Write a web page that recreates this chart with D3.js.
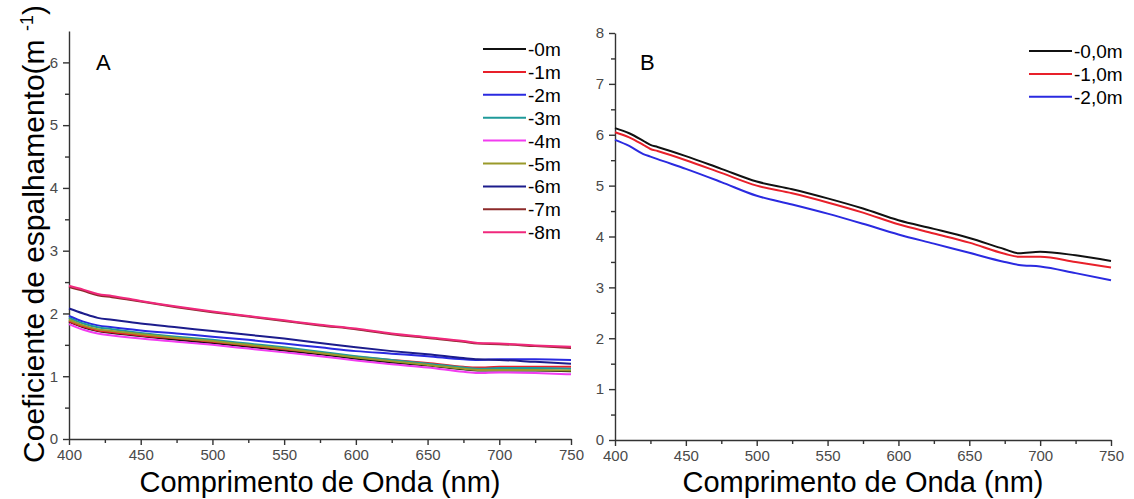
<!DOCTYPE html>
<html>
<head>
<meta charset="utf-8">
<script src="https://cdn.jsdelivr.net/npm/d3@7"></script>
<style>
  body { margin: 0; background: #fff; }
  svg { font-family: "Liberation Sans", Arial, sans-serif; }
  .axis path, .axis line { stroke: #333; stroke-width: 1.4; }
  .axis text { fill: #4a4a4a; font-size: 15px; font-family: "Liberation Sans", Arial, sans-serif; }
</style>
</head>
<body>
<svg id="chart" width="1134" height="499"></svg>
<script>
// panel A: depth series
const wavelengthsA = [400, 410, 420, 430, 450, 475, 500, 525, 550, 575, 600, 625, 650, 675, 685, 700, 725, 750];
const seriesA = [
  { name: '-0m', color: '#111111', values: [1.87, 1.78, 1.72, 1.69, 1.64, 1.58, 1.53, 1.47, 1.41, 1.35, 1.28, 1.22, 1.17, 1.11, 1.09, 1.09, 1.09, 1.08] },
  { name: '-1m', color: '#e8202a', values: [1.88, 1.79, 1.73, 1.70, 1.65, 1.60, 1.55, 1.49, 1.43, 1.37, 1.31, 1.26, 1.21, 1.15, 1.14, 1.15, 1.15, 1.15] },
  { name: '-2m', color: '#2a2ae0', values: [1.96, 1.87, 1.81, 1.78, 1.73, 1.68, 1.63, 1.58, 1.52, 1.46, 1.40, 1.36, 1.32, 1.27, 1.26, 1.27, 1.27, 1.26] },
  { name: '-3m', color: '#1f9a9a', values: [1.93, 1.84, 1.78, 1.75, 1.69, 1.63, 1.58, 1.52, 1.46, 1.39, 1.32, 1.26, 1.20, 1.14, 1.12, 1.13, 1.13, 1.12] },
  { name: '-4m', color: '#f23cf0', values: [1.83, 1.74, 1.68, 1.65, 1.60, 1.55, 1.50, 1.44, 1.38, 1.32, 1.25, 1.19, 1.14, 1.07, 1.05, 1.06, 1.05, 1.03] },
  { name: '-5m', color: '#9a9a2a', values: [1.90, 1.81, 1.75, 1.72, 1.67, 1.61, 1.56, 1.50, 1.44, 1.37, 1.30, 1.24, 1.18, 1.12, 1.10, 1.10, 1.10, 1.09] },
  { name: '-6m', color: '#1c1c8c', values: [2.08, 2.00, 1.93, 1.90, 1.84, 1.78, 1.72, 1.66, 1.60, 1.53, 1.46, 1.40, 1.35, 1.29, 1.27, 1.26, 1.23, 1.20] },
  { name: '-7m', color: '#8c2a2a', values: [2.42, 2.36, 2.29, 2.26, 2.19, 2.10, 2.02, 1.95, 1.88, 1.81, 1.75, 1.67, 1.61, 1.55, 1.52, 1.51, 1.48, 1.45] },
  { name: '-8m', color: '#f0287c', values: [2.44, 2.38, 2.31, 2.28, 2.20, 2.11, 2.03, 1.96, 1.89, 1.82, 1.76, 1.68, 1.62, 1.56, 1.53, 1.52, 1.49, 1.47] }
];

// panel B
const wavelengthsB = [400, 410, 420, 425, 430, 450, 475, 500, 525, 550, 575, 600, 625, 650, 675, 685, 700, 725, 750];
const seriesB = [
  { name: '-0,0m', color: '#111111', values: [6.13, 6.03, 5.88, 5.80, 5.76, 5.58, 5.33, 5.08, 4.93, 4.75, 4.55, 4.32, 4.15, 3.97, 3.75, 3.67, 3.70, 3.63, 3.52] },
  { name: '-1,0m', color: '#e8202a', values: [6.05, 5.95, 5.80, 5.72, 5.68, 5.50, 5.25, 5.00, 4.85, 4.67, 4.47, 4.24, 4.06, 3.88, 3.66, 3.60, 3.60, 3.50, 3.39] },
  { name: '-2,0m', color: '#2a2ae0', values: [5.90, 5.78, 5.62, 5.57, 5.52, 5.33, 5.07, 4.80, 4.63, 4.45, 4.25, 4.04, 3.86, 3.68, 3.50, 3.44, 3.41, 3.28, 3.14] }
];

const xMajor = [400, 450, 500, 550, 600, 650, 700, 750];
const xMinor = [425, 475, 525, 575, 625, 675, 725];

const svg = d3.select('#chart');

function drawPanel(cfg) {
  const x = d3.scaleLinear().domain([400, 750]).range([cfg.left, cfg.right]);
  const y = d3.scaleLinear().domain([0, cfg.yMax]).range([cfg.bottom, cfg.top]);
  const g = svg.append('g');

  const yMajor = d3.range(0, Math.floor(cfg.yMax) + 1);
  const yMinor = d3.range(0.5, cfg.yMax, 1);

  // minor ticks first
  g.append('g').attr('class', 'axis')
    .attr('transform', `translate(${cfg.left},0)`)
    .call(d3.axisLeft(y).tickValues(yMinor).tickSize(4).tickFormat(''))
    .select('.domain').remove();
  g.append('g').attr('class', 'axis')
    .attr('transform', `translate(0,${cfg.bottom})`)
    .call(d3.axisBottom(x).tickValues(xMinor).tickSize(4).tickFormat(''))
    .select('.domain').remove();

  g.append('g').attr('class', 'axis')
    .attr('transform', `translate(${cfg.left},0)`)
    .call(d3.axisLeft(y).tickValues(yMajor).tickSize(6).tickSizeOuter(0).tickPadding(5).tickFormat(d3.format('d')));
  g.append('g').attr('class', 'axis')
    .attr('transform', `translate(0,${cfg.bottom})`)
    .call(d3.axisBottom(x).tickValues(xMajor).tickSize(6).tickSizeOuter(0).tickPadding(4).tickFormat(d3.format('d')));

  const line = d3.line()
    .x((d, i) => x(cfg.wl[i]))
    .y(d => y(d))
    .curve(d3.curveMonotoneX);

  cfg.series.forEach(s => {
    g.append('path')
      .attr('d', line(s.values))
      .attr('fill', 'none')
      .attr('stroke', s.color)
      .attr('stroke-width', 2);
  });

  // panel letter
  g.append('text')
    .attr('x', cfg.letterX).attr('y', 70)
    .style('font-size', '22px')
    .text(cfg.letter);

  // legend
  const leg = g.append('g');
  cfg.series.forEach((s, i) => {
    const ly = cfg.legY + i * 22.9;
    leg.append('line')
      .attr('x1', cfg.legX).attr('x2', cfg.legX + 43)
      .attr('y1', ly).attr('y2', ly)
      .attr('stroke', s.color).attr('stroke-width', 2);
    leg.append('text')
      .attr('x', cfg.legX + 45).attr('y', ly + 7)
      .style('font-size', '19px')
      .text(s.name);
  });

  // x title
  g.append('text')
    .attr('x', (cfg.left + cfg.right) / 2).attr('y', 492)
    .attr('text-anchor', 'middle')
    .style('font-size', '29px')
    .text('Comprimento de Onda (nm)');
}

drawPanel({ left: 69, right: 571, top: 31, bottom: 439, yMax: 6.5,
  wl: wavelengthsA, series: seriesA, letter: 'A', letterX: 96, legX: 483, legY: 49 });
drawPanel({ left: 615, right: 1111, top: 33, bottom: 440, yMax: 8,
  wl: wavelengthsB, series: seriesB, letter: 'B', letterX: 640, legX: 1029, legY: 51 });

// y title
const yt = svg.append('text')
  .attr('transform', 'translate(44,234) rotate(-90)')
  .attr('text-anchor', 'middle')
  .style('font-size', '30px');
yt.append('tspan').text('Coeficiente de espalhamento(m ');
yt.append('tspan').attr('dy', -11).style('font-size', '18px').text('-1');
yt.append('tspan').attr('dy', 11).text(')');
</script>
</body>
</html>
